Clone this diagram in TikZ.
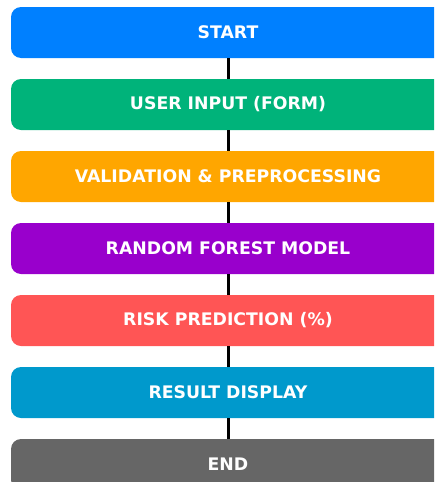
\documentclass[tikz,border=0pt]{standalone}
\usepackage{fontspec}
\setmainfont{DejaVu Sans}
\definecolor{cstart}{RGB}{0,128,255}
\definecolor{cinput}{RGB}{0,179,122}
\definecolor{cvalid}{RGB}{255,166,0}
\definecolor{cmodel}{RGB}{153,0,204}
\definecolor{crisk}{RGB}{255,85,85}
\definecolor{cresult}{RGB}{0,153,204}
\definecolor{cend}{RGB}{102,102,102}
\tikzset{
  stepbox/.style={rectangle, rounded corners=10pt, minimum width=434pt, minimum height=51pt,
    inner sep=0pt, text=white, font=\bfseries\fontsize{17.3pt}{20pt}\selectfont},
  link/.style={draw=black, line width=2.2pt}
}
\begin{document}
\begin{tikzpicture}[x=1pt,y=1pt]
\useasboundingbox (0,0) rectangle (434,-482);
\clip (0,0) rectangle (434,-482);
\node[stepbox, fill=cstart] (n1) at (228,-32.5) {START};
\node[stepbox, fill=cinput] (n2) at (228,-104.5) {USER INPUT (FORM)};
\node[stepbox, fill=cvalid] (n3) at (228,-176.5) {VALIDATION \& PREPROCESSING};
\node[stepbox, fill=cmodel] (n4) at (228,-248.5) {RANDOM FOREST MODEL};
\node[stepbox, fill=crisk] (n5) at (228,-320.5) {RISK PREDICTION (\%)};
\node[stepbox, fill=cresult] (n6) at (228,-392.5) {RESULT DISPLAY};
\node[stepbox, fill=cend] (n7) at (228,-464.5) {END};
\draw[link] ([xshift=0.5pt]n1.south) -- ([xshift=0.5pt]n2.north);
\draw[link] ([xshift=0.5pt]n2.south) -- ([xshift=0.5pt]n3.north);
\draw[link] ([xshift=0.5pt]n3.south) -- ([xshift=0.5pt]n4.north);
\draw[link] ([xshift=0.5pt]n4.south) -- ([xshift=0.5pt]n5.north);
\draw[link] ([xshift=0.5pt]n5.south) -- ([xshift=0.5pt]n6.north);
\draw[link] ([xshift=0.5pt]n6.south) -- ([xshift=0.5pt]n7.north);
\end{tikzpicture}
\end{document}
